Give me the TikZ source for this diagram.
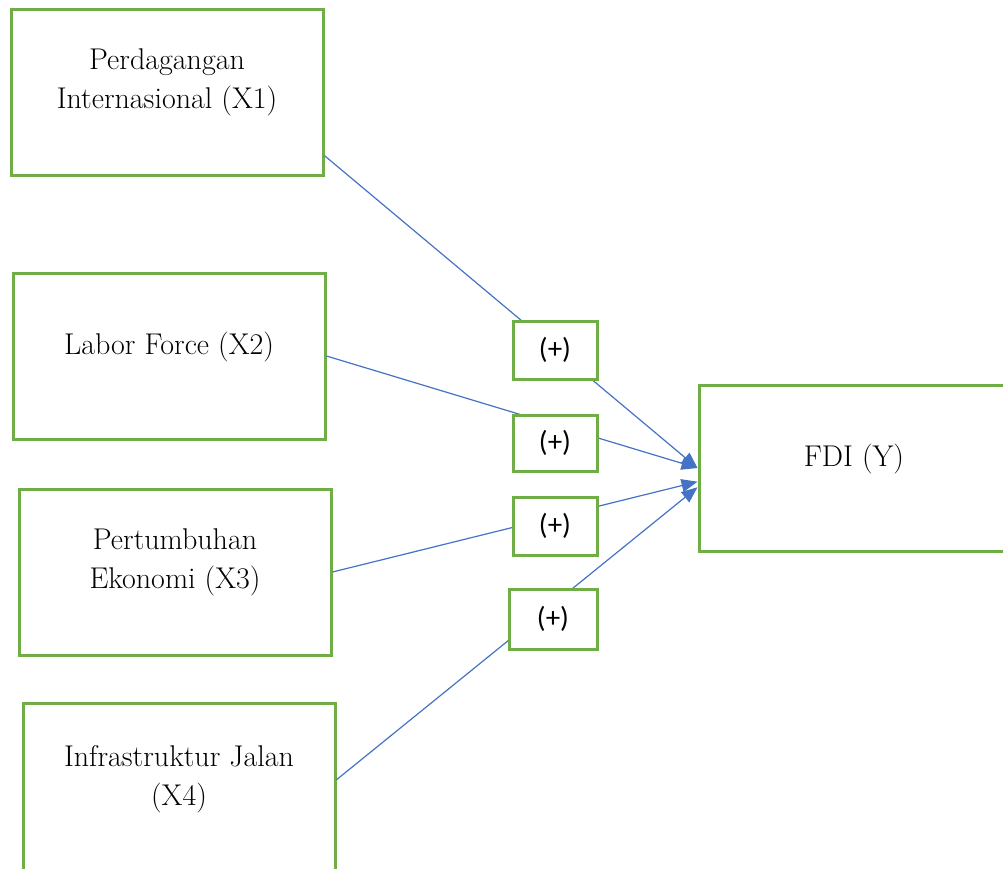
\documentclass[tikz,border=0pt]{standalone}
\usepackage{fontspec}
\newfontfamily\signfont{Carlito}
\usetikzlibrary{arrows.meta}
\definecolor{boxgreen}{RGB}{112,173,71}
\definecolor{linkblue}{RGB}{68,114,196}
\tikzset{
varbox/.style={draw=boxgreen,line width=3pt,minimum width=312pt,minimum height=166pt,
  align=center,font=\fontsize{30}{39}\selectfont,text depth=26pt},
signbox/.style={draw=boxgreen,fill=white,line width=3pt,minimum width=84pt,minimum height=58pt,
  font=\signfont\fontsize{29}{32}\selectfont},
link/.style={draw=linkblue,line width=1.2pt,-{Triangle[length=16pt,width=13pt]}}
}
\begin{document}
\begin{tikzpicture}[x=1pt,y=-1pt]
\clip (0,0) rectangle (1003,868);

\node [varbox] (x1) at (167,92) {Perdagangan\\Internasional (X1)};
\node [varbox] (x2) at (169,356) {Labor Force (X2)};
\node [varbox] (x3) at (175,572) {Pertumbuhan\\Ekonomi (X3)};
\node [varbox,minimum height=170pt] (x4) at (179,788) {Infrastruktur Jalan\\(X4)};
\node [varbox,minimum width=310pt] (fdi) at (854,468) {FDI (Y)};

\draw [link] (x1.-22) -- (fdi.west);
\draw [link] (x2.east) -- (fdi.west);
\draw [link] (x3.east) -- (fdi.185);
\draw [link] (x4.3) -- (fdi.187);

\node [signbox] (p1) at (555,350) {(+)};
\node [signbox,minimum height=56pt] (p2) at (555,443) {(+)};
\node [signbox] (p3) at (555,526) {(+)};
\node [signbox,minimum width=88pt,minimum height=60pt] (p4) at (553,619) {(+)};
\end{tikzpicture}
\end{document}
